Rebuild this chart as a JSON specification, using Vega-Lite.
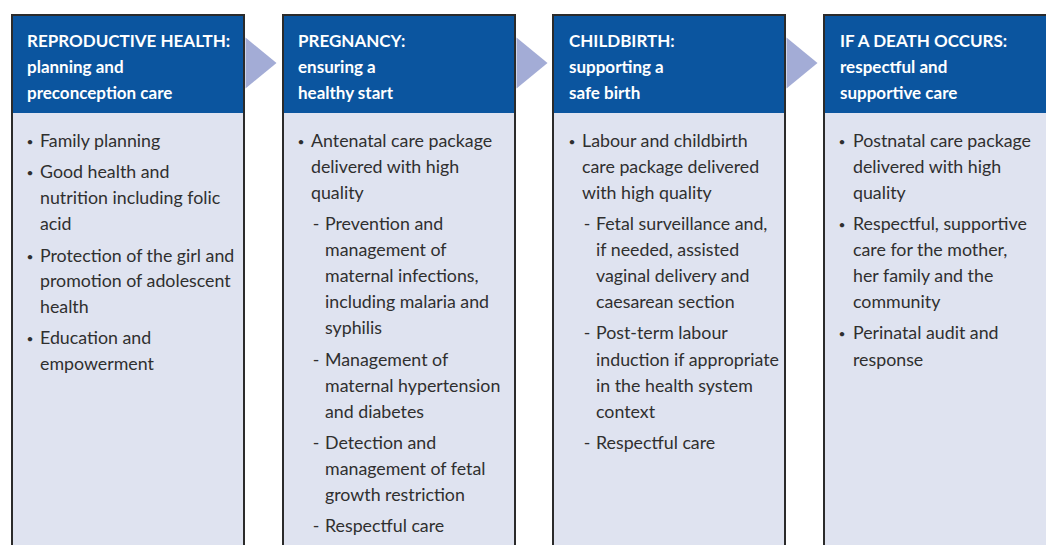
{
  "$schema": "https://vega.github.io/schema/vega-lite/v6.json",
  "width": 1046,
  "height": 545,
  "padding": 0,
  "autosize": "none",
  "background": "white",
  "config": {"view": {"stroke": null}},
  "datasets": {
    "boxes": [
      {"c": 1, "x": 12, "x2": 244, "y": 15, "y2": 560, "yh": 113},
      {"c": 2, "x": 283, "x2": 515, "y": 15, "y2": 560, "yh": 113},
      {"c": 3, "x": 553, "x2": 785, "y": 15, "y2": 560, "yh": 113},
      {"c": 4, "x": 824, "x2": 1060, "y": 15, "y2": 560, "yh": 113}
    ],
    "arrows": [
      {"x": 261, "y": 63},
      {"x": 532, "y": 63},
      {"x": 802, "y": 63}
    ],
    "texts": [
      {"k": "h", "x": 27, "y": 42, "t": "REPRODUCTIVE HEALTH:"},
      {"k": "h", "x": 27, "y": 68, "t": "planning and"},
      {"k": "h", "x": 27, "y": 94, "t": "preconception care"},
      {"k": "h", "x": 298, "y": 42, "t": "PREGNANCY:"},
      {"k": "h", "x": 298, "y": 68, "t": "ensuring a"},
      {"k": "h", "x": 298, "y": 94, "t": "healthy start"},
      {"k": "h", "x": 569, "y": 42, "t": "CHILDBIRTH:"},
      {"k": "h", "x": 569, "y": 68, "t": "supporting a"},
      {"k": "h", "x": 569, "y": 94, "t": "safe birth"},
      {"k": "h", "x": 840, "y": 42, "t": "IF A DEATH OCCURS:"},
      {"k": "h", "x": 840, "y": 68, "t": "respectful and"},
      {"k": "h", "x": 840, "y": 94, "t": "supportive care"},

      {"k": "dot", "x": 30, "y": 142, "t": "•"},
      {"k": "b", "x": 40, "y": 142, "t": "Family planning"},
      {"k": "dot", "x": 30, "y": 173, "t": "•"},
      {"k": "b", "x": 40, "y": 173, "t": "Good health and"},
      {"k": "b", "x": 40, "y": 199, "t": "nutrition including folic"},
      {"k": "b", "x": 40, "y": 225, "t": "acid"},
      {"k": "dot", "x": 30, "y": 257, "t": "•"},
      {"k": "b", "x": 40, "y": 257, "t": "Protection of the girl and"},
      {"k": "b", "x": 40, "y": 282, "t": "promotion of adolescent"},
      {"k": "b", "x": 40, "y": 308, "t": "health"},
      {"k": "dot", "x": 30, "y": 339, "t": "•"},
      {"k": "b", "x": 40, "y": 339, "t": "Education and"},
      {"k": "b", "x": 40, "y": 365, "t": "empowerment"},

      {"k": "dot", "x": 301, "y": 142, "t": "•"},
      {"k": "b", "x": 311, "y": 142, "t": "Antenatal care package"},
      {"k": "b", "x": 311, "y": 168, "t": "delivered with high"},
      {"k": "b", "x": 311, "y": 194, "t": "quality"},
      {"k": "dash", "x": 316, "y": 225, "t": "-"},
      {"k": "b", "x": 325, "y": 225, "t": "Prevention and"},
      {"k": "b", "x": 325, "y": 251, "t": "management of"},
      {"k": "b", "x": 325, "y": 277, "t": "maternal infections,"},
      {"k": "b", "x": 325, "y": 303, "t": "including malaria and"},
      {"k": "b", "x": 325, "y": 329, "t": "syphilis"},
      {"k": "dash", "x": 316, "y": 361, "t": "-"},
      {"k": "b", "x": 325, "y": 361, "t": "Management of"},
      {"k": "b", "x": 325, "y": 387, "t": "maternal hypertension"},
      {"k": "b", "x": 325, "y": 413, "t": "and diabetes"},
      {"k": "dash", "x": 316, "y": 444, "t": "-"},
      {"k": "b", "x": 325, "y": 444, "t": "Detection and"},
      {"k": "b", "x": 325, "y": 470, "t": "management of fetal"},
      {"k": "b", "x": 325, "y": 496, "t": "growth restriction"},
      {"k": "dash", "x": 316, "y": 527, "t": "-"},
      {"k": "b", "x": 325, "y": 527, "t": "Respectful care"},

      {"k": "dot", "x": 572, "y": 142, "t": "•"},
      {"k": "b", "x": 582, "y": 142, "t": "Labour and childbirth"},
      {"k": "b", "x": 582, "y": 168, "t": "care package delivered"},
      {"k": "b", "x": 582, "y": 194, "t": "with high quality"},
      {"k": "dash", "x": 587, "y": 225, "t": "-"},
      {"k": "b", "x": 596, "y": 225, "t": "Fetal surveillance and,"},
      {"k": "b", "x": 596, "y": 251, "t": "if needed, assisted"},
      {"k": "b", "x": 596, "y": 277, "t": "vaginal delivery and"},
      {"k": "b", "x": 596, "y": 303, "t": "caesarean section"},
      {"k": "dash", "x": 587, "y": 334, "t": "-"},
      {"k": "b", "x": 596, "y": 334, "t": "Post-term labour"},
      {"k": "b", "x": 596, "y": 361, "t": "induction if appropriate"},
      {"k": "b", "x": 596, "y": 387, "t": "in the health system"},
      {"k": "b", "x": 596, "y": 413, "t": "context"},
      {"k": "dash", "x": 587, "y": 444, "t": "-"},
      {"k": "b", "x": 596, "y": 444, "t": "Respectful care"},

      {"k": "dot", "x": 842, "y": 142, "t": "•"},
      {"k": "b", "x": 853, "y": 142, "t": "Postnatal care package"},
      {"k": "b", "x": 853, "y": 168, "t": "delivered with high"},
      {"k": "b", "x": 853, "y": 194, "t": "quality"},
      {"k": "dot", "x": 842, "y": 225, "t": "•"},
      {"k": "b", "x": 853, "y": 225, "t": "Respectful, supportive"},
      {"k": "b", "x": 853, "y": 251, "t": "care for the mother,"},
      {"k": "b", "x": 853, "y": 277, "t": "her family and the"},
      {"k": "b", "x": 853, "y": 303, "t": "community"},
      {"k": "dot", "x": 842, "y": 334, "t": "•"},
      {"k": "b", "x": 853, "y": 334, "t": "Perinatal audit and"},
      {"k": "b", "x": 853, "y": 361, "t": "response"}
    ]
  },
  "layer": [
    {
      "data": {"name": "boxes"},
      "mark": {"type": "rect", "fill": "#dfe3f0", "clip": true},
      "encoding": {
        "x": {"field": "x", "type": "quantitative", "scale": {"domain": [0, 1046], "nice": false, "zero": false}, "axis": null},
        "x2": {"field": "x2"},
        "y": {"field": "y", "type": "quantitative", "scale": {"domain": [0, 545], "nice": false, "zero": false, "reverse": true}, "axis": null},
        "y2": {"field": "y2"}
      }
    },
    {
      "data": {"name": "boxes"},
      "mark": {"type": "rect", "fill": "#0b559f", "clip": true},
      "encoding": {
        "x": {"field": "x", "type": "quantitative"},
        "x2": {"field": "x2"},
        "y": {"field": "y", "type": "quantitative"},
        "y2": {"field": "yh"}
      }
    },
    {
      "data": {"name": "boxes"},
      "mark": {"type": "rect", "fill": null, "fillOpacity": 0, "stroke": "#2b2b2b", "strokeWidth": 2, "clip": true},
      "encoding": {
        "x": {"field": "x", "type": "quantitative"},
        "x2": {"field": "x2"},
        "y": {"field": "y", "type": "quantitative"},
        "y2": {"field": "y2"}
      }
    },
    {
      "data": {"name": "arrows"},
      "mark": {"type": "point", "shape": "M-0.608,-1L0.608,0L-0.608,1Z", "size": 2601, "filled": true, "fill": "#a3acd6", "opacity": 1, "strokeWidth": 0},
      "encoding": {
        "x": {"field": "x", "type": "quantitative"},
        "y": {"field": "y", "type": "quantitative"}
      }
    },
    {
      "data": {"name": "texts"},
      "transform": [{"filter": "datum.k === 'h'"}],
      "mark": {"type": "text", "align": "left", "baseline": "middle", "font": "Lato", "fontWeight": "bold", "fontSize": 17, "fill": "#ffffff"},
      "encoding": {
        "x": {"field": "x", "type": "quantitative"},
        "y": {"field": "y", "type": "quantitative"},
        "text": {"field": "t"}
      }
    },
    {
      "data": {"name": "texts"},
      "transform": [{"filter": "datum.k === 'b'"}],
      "mark": {"type": "text", "align": "left", "baseline": "middle", "font": "Lato", "fontSize": 17.8, "fill": "#2f2f2f"},
      "encoding": {
        "x": {"field": "x", "type": "quantitative"},
        "y": {"field": "y", "type": "quantitative"},
        "text": {"field": "t"}
      }
    },
    {
      "data": {"name": "texts"},
      "transform": [{"filter": "datum.k === 'dash'"}],
      "mark": {"type": "text", "align": "center", "baseline": "middle", "font": "Lato", "fontSize": 17.8, "fill": "#2f2f2f"},
      "encoding": {
        "x": {"field": "x", "type": "quantitative"},
        "y": {"field": "y", "type": "quantitative"},
        "text": {"field": "t"}
      }
    },
    {
      "data": {"name": "texts"},
      "transform": [{"filter": "datum.k === 'dot'"}],
      "mark": {"type": "text", "align": "center", "baseline": "middle", "font": "Lato", "fontSize": 12, "fill": "#2f2f2f"},
      "encoding": {
        "x": {"field": "x", "type": "quantitative"},
        "y": {"field": "y", "type": "quantitative"},
        "text": {"field": "t"}
      }
    }
  ]
}
